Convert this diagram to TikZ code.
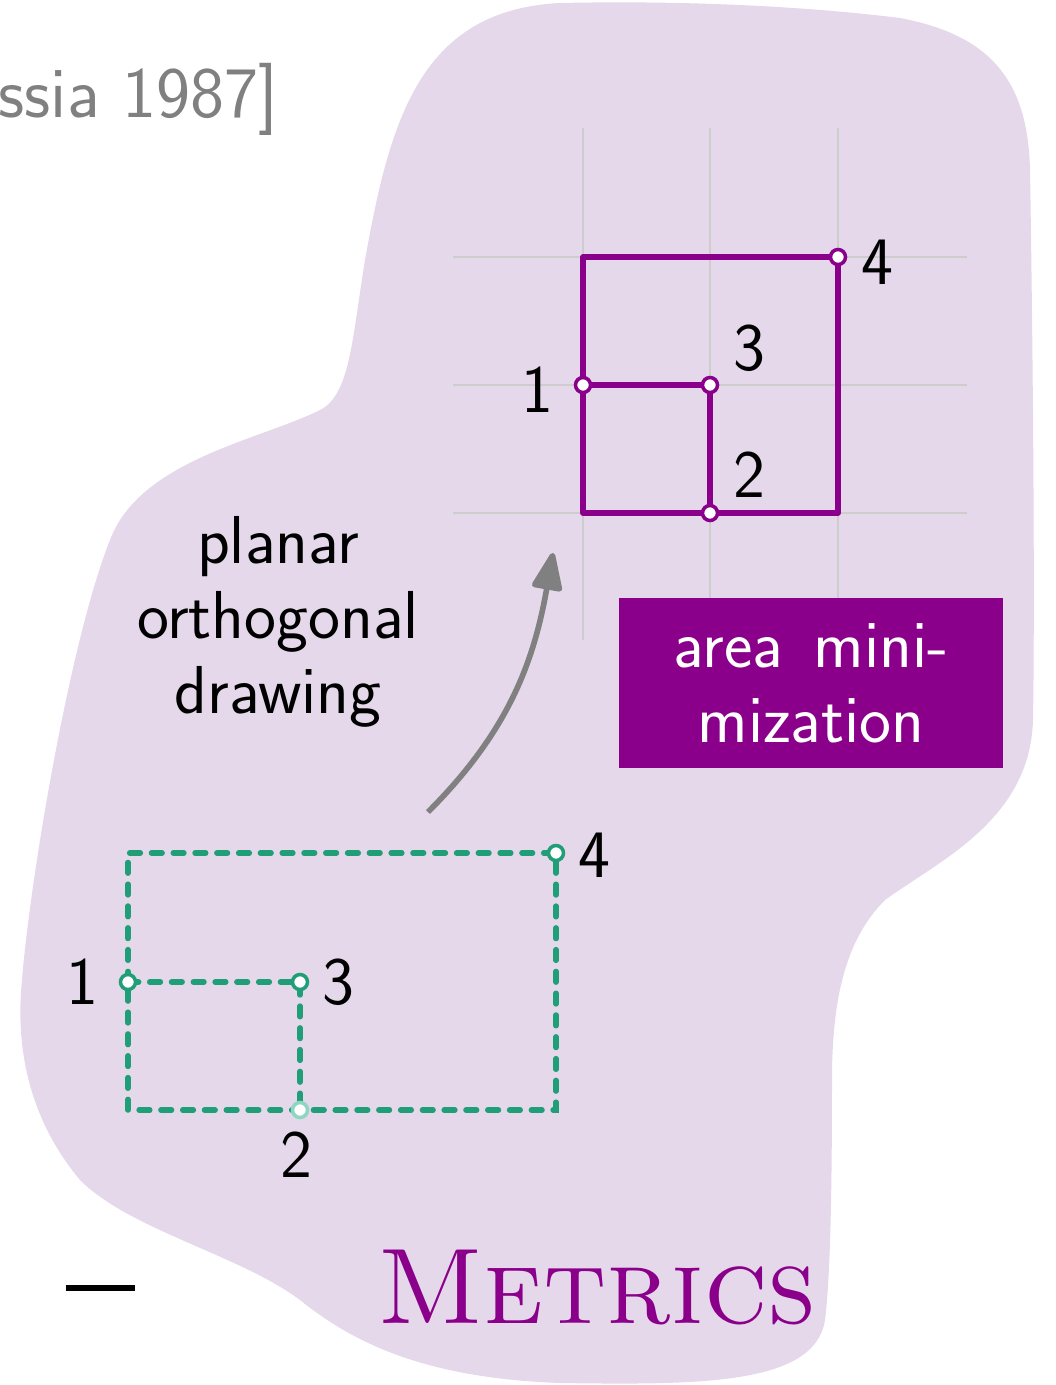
\documentclass[tikz,border=0pt]{standalone}
\usepackage{fontspec}
\usepackage{xcolor}
\usepackage{tikz}
\usetikzlibrary{arrows.meta}
\definecolor{blobbg}{HTML}{E4D8EA}
\definecolor{metricpurple}{HTML}{8B008B}
\definecolor{sketchgreen}{HTML}{1F9E78}
\definecolor{sketchlight}{HTML}{8FD6C2}
\definecolor{gridgray}{HTML}{CDCDCD}
\definecolor{citegray}{HTML}{808080}
\newcommand{\slidefont}{\sffamily\fontsize{19.3}{21.4}\selectfont}

\begin{document}
\begin{tikzpicture}[
          vtx/.style={circle, draw, fill=white, inner sep=0pt,
                      minimum size=0.15cm, line width=1pt},
          lbl/.style={font=\slidefont, inner sep=0pt},
          gridln/.style={gridgray, line width=0.6pt},
          ortho/.style={metricpurple, line width=1.6pt, line join=round},
          sketch/.style={sketchgreen, line width=1.6pt, line cap=round,
                         dash pattern=on 3pt off 3.2pt},
          arr/.style={-{Triangle[length=12pt, width=9pt, round]}, line width=1.6pt, citegray}
        ]
        \useasboundingbox (0,0) rectangle (10.55,-13.85);

        % Background blob
        \fill[blobbg] (5.60,-0.03)
          .. controls (7.00,0.00) and (8.20,-0.08) .. (9.00,-0.18)
          .. controls (9.90,-0.35) and (10.28,-0.80) .. (10.30,-1.70)
          .. controls (10.33,-3.50) and (10.35,-6.00) .. (10.33,-7.20)
          .. controls (10.30,-8.20) and (9.40,-8.60) .. (8.85,-9.00)
          .. controls (8.45,-9.40) and (8.32,-10.00) .. (8.32,-10.80)
          .. controls (8.32,-12.00) and (8.30,-12.80) .. (8.25,-13.20)
          .. controls (8.15,-13.85) and (7.00,-13.85) .. (5.60,-13.83)
          .. controls (4.20,-13.78) and (3.50,-13.40) .. (3.00,-13.00)
          .. controls (2.40,-12.55) and (1.30,-12.30) .. (0.80,-11.80)
          .. controls (0.30,-11.20) and (0.15,-10.50) .. (0.22,-9.80)
          .. controls (0.30,-8.80) and (0.70,-6.40) .. (1.10,-5.40)
          .. controls (1.40,-4.60) and (2.60,-4.40) .. (3.20,-4.10)
          .. controls (3.50,-3.95) and (3.52,-3.40) .. (3.65,-2.60)
          .. controls (3.90,-1.20) and (4.20,-0.10) .. cycle;

        \node[font=\sffamily\fontsize{20.6}{24}\selectfont, text=citegray,
              anchor=east, inner sep=0pt] (cite) at (2.79,-0.99) {ssia 1987]};

        % Grid
        \foreach \x in {5.83, 7.10, 8.38}
          \draw[gridln] (\x,-1.28) -- (\x,-6.40);
        \foreach \y in {-2.57, -3.85, -5.13}
          \draw[gridln] (4.53,\y) -- (9.67,\y);

        % Compacted drawing
        \coordinate (p1) at (5.83,-3.85);
        \coordinate (p2) at (7.10,-5.13);
        \coordinate (p3) at (7.10,-3.85);
        \coordinate (p4) at (8.38,-2.57);
        \draw[ortho] (p1) |- (p4) |- (p2) -| (p1);
        \draw[ortho] (p1) -- (p3) -- (p2);
        \foreach \v in {1,...,4}
          \node[vtx, draw=metricpurple] (p\v v) at (p\v) {};
        \node[lbl] (p1l) at (5.37,-3.90) {1};
        \node[lbl] (p2l) at (7.49,-4.75) {2};
        \node[lbl] (p3l) at (7.49,-3.48) {3};
        \node[lbl] (p4l) at (8.77,-2.62) {4};

        % Input drawing
        \coordinate (g1) at (1.28,-9.82);
        \coordinate (g2) at (3.00,-11.10);
        \coordinate (g3) at (3.00,-9.82);
        \coordinate (g4) at (5.56,-8.53);
        \draw[sketch] (g1) |- (g4) |- (g2) -| (g1);
        \draw[sketch] (g1) -- (g3) -- (g2);
        \node[vtx, draw=sketchgreen] (g1v) at (g1) {};
        \node[vtx, draw=sketchlight] (g2v) at (g2) {};
        \node[vtx, draw=sketchgreen] (g3v) at (g3) {};
        \node[vtx, draw=sketchgreen] (g4v) at (g4) {};
        \node[lbl] (g1l) at (0.82,-9.82) {1};
        \node[lbl] (g2l) at (2.96,-11.55) {2};
        \node[lbl] (g3l) at (3.38,-9.82) {3};
        \node[lbl] (g4l) at (5.94,-8.55) {4};

        % Step
        \node[font=\slidefont, align=center] (task) at (2.78,-6.22)
          {planar\\orthogonal\\drawing};
        \coordinate (arrs) at (4.28,-8.12);
        \coordinate (arrt) at (5.53,-5.53);
        \draw[arr] (arrs) to[out=45, in=-100] (arrt);

        \node[fill=metricpurple, text=white, font=\slidefont, align=center,
              minimum width=3.84cm, minimum height=1.70cm] (area) at (8.11,-6.83)
          {area\hspace{0.45em}mini-\\mization};

        \node[font=\fontsize{30.6}{36}\selectfont\scshape, text=metricpurple,
              inner sep=0pt] (metric) at (5.97,-12.88) {Metrics};

        \draw[line width=1.7pt] (0.66,-12.88) -- (1.35,-12.88);
      \end{tikzpicture}
\end{document}
